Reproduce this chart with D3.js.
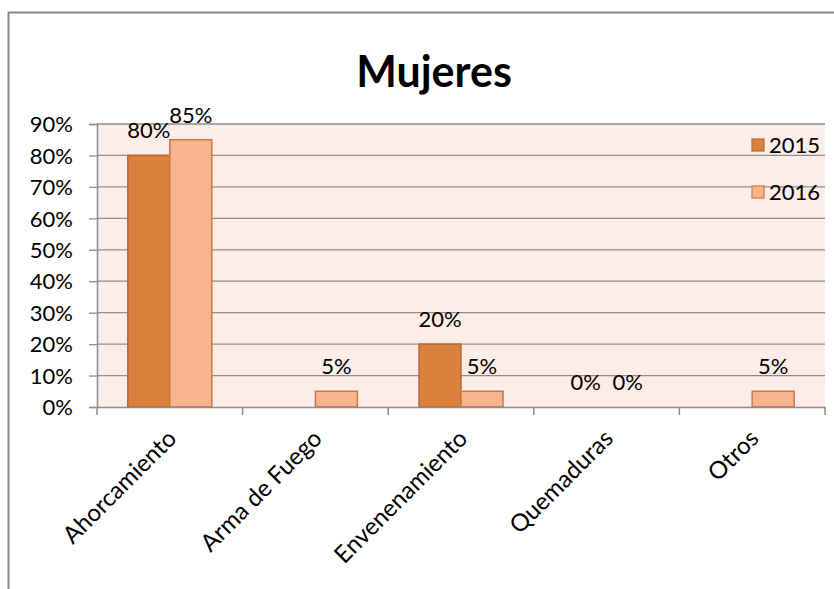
<!DOCTYPE html>
<html><head><meta charset="utf-8">
<script src="https://cdn.jsdelivr.net/npm/d3@7"></script>
<style>body{margin:0;background:#fff}svg{display:block}</style>
</head><body><svg id="c" width="834" height="589"></svg>
<script>
const categories = ["Ahorcamiento","Arma de Fuego","Envenenamiento","Quemaduras","Otros"];
const series2015 = [0.80, null, 0.20, 0.00, null];
const series2016 = [0.85, 0.05, 0.05, 0.00, 0.05];
const seriesNames = ["2015","2016"];
const yTicks = [0,0.1,0.2,0.3,0.4,0.5,0.6,0.7,0.8,0.9];
const title = "Mujeres";

const font = "Lato, 'Open Sans', sans-serif";
const colors = {"2015":"#D9823E","2016":"#F8B48F"};
const strokes = {"2015":"#B9692F","2016":"#C97A3F"};
const svg = d3.select("#c");

// outer border
svg.append("rect").attr("x",8.5).attr("y",12.5).attr("width",840).attr("height",600)
  .attr("fill","#fff").attr("stroke","#898989").attr("stroke-width",2);

const L=97, R=825, T=124, B=407;
const x = d3.scaleBand().domain(categories).range([L,R]);
const y = d3.scaleLinear().domain([0,0.9]).range([B,T]);
const inner = d3.scaleBand().domain(seriesNames).range([0,84]);

svg.append("rect").attr("x",L).attr("y",T).attr("width",R-L).attr("height",B-T).attr("fill","#FCEDE8");

// gridlines
svg.append("g").selectAll("line").data(yTicks.slice(1)).join("line")
  .attr("x1",L).attr("x2",R).attr("y1",d=>y(d)).attr("y2",d=>y(d))
  .attr("stroke","#8C8C8C").attr("stroke-width",1.3);

// bars
const data = [];
categories.forEach((c,i)=>{
  [[ "2015", series2015[i]],["2016", series2016[i]]].forEach(([s,v])=>{
    if(v!==null) data.push({c,s,v});
  });
});
const off = (x.bandwidth()-84)/2;
svg.append("g").selectAll("rect").data(data.filter(d=>d.v>0)).join("rect")
  .attr("x",d=>x(d.c)+off+inner(d.s)).attr("width",inner.bandwidth())
  .attr("y",d=>y(d.v)).attr("height",d=>B-y(d.v))
  .attr("fill",d=>colors[d.s]).attr("stroke",d=>strokes[d.s]).attr("stroke-width",1.5);

// data labels
svg.append("g").selectAll("text").data(data).join("text")
  .attr("x",d=>x(d.c)+off+inner(d.s)+inner.bandwidth()/2)
  .attr("y",d=>y(d.v)-17)
  .attr("text-anchor","middle").attr("font-family",font).attr("font-size",22).attr("fill","#000")
  .text(d=>Math.round(d.v*100)+"%");

// y axis
const yAxis = svg.append("g").attr("transform",`translate(${L},0)`)
  .call(d3.axisLeft(y).tickValues(yTicks).tickFormat(d=>Math.round(d*100)+"%").tickSize(8).tickPadding(16));
yAxis.select(".domain").attr("stroke","#8C8C8C").attr("stroke-width",1.5);
yAxis.selectAll(".tick line").attr("stroke","#8C8C8C").attr("stroke-width",1.3);
yAxis.selectAll("text").attr("font-family",font).attr("font-size",22).attr("fill","#000").attr("dy","0.35em");

// x axis
const xAxis = svg.append("g").attr("transform",`translate(0,${B})`)
  .call(d3.axisBottom(x).tickSize(0).tickFormat(""));
xAxis.select(".domain").attr("stroke","#8C8C8C").attr("stroke-width",1.5);
const bounds = categories.map(c=>x(c)).concat([R]);
xAxis.append("g").selectAll("line").data(bounds).join("line")
  .attr("x1",d=>d).attr("x2",d=>d).attr("y1",0).attr("y2",8)
  .attr("stroke","#8C8C8C").attr("stroke-width",1.5);
svg.append("g").selectAll("text").data(categories).join("text")
  .attr("transform",d=>`translate(${x(d)+x.bandwidth()/2+8},${B+33}) rotate(-45)`)
  .attr("text-anchor","end").attr("font-family",font).attr("font-size",24).attr("fill","#000")
  .text(d=>d);

// title
svg.append("text").attr("x",434).attr("y",87).attr("text-anchor","middle")
  .attr("font-family",font).attr("font-weight","bold").attr("font-size",43).attr("fill","#000").text(title);

// legend
const lg = svg.append("g").selectAll("g").data(seriesNames).join("g")
  .attr("transform",(d,i)=>`translate(752,${145+i*47})`);
lg.append("rect").attr("x",0).attr("y",-6).attr("width",12).attr("height",12)
  .attr("fill",d=>colors[d]).attr("stroke",d=>strokes[d]).attr("stroke-width",1.2);
lg.append("text").attr("x",17).attr("y",0).attr("dy","0.35em")
  .attr("font-family",font).attr("font-size",22).attr("fill","#000").text(d=>d);
</script></body></html>
